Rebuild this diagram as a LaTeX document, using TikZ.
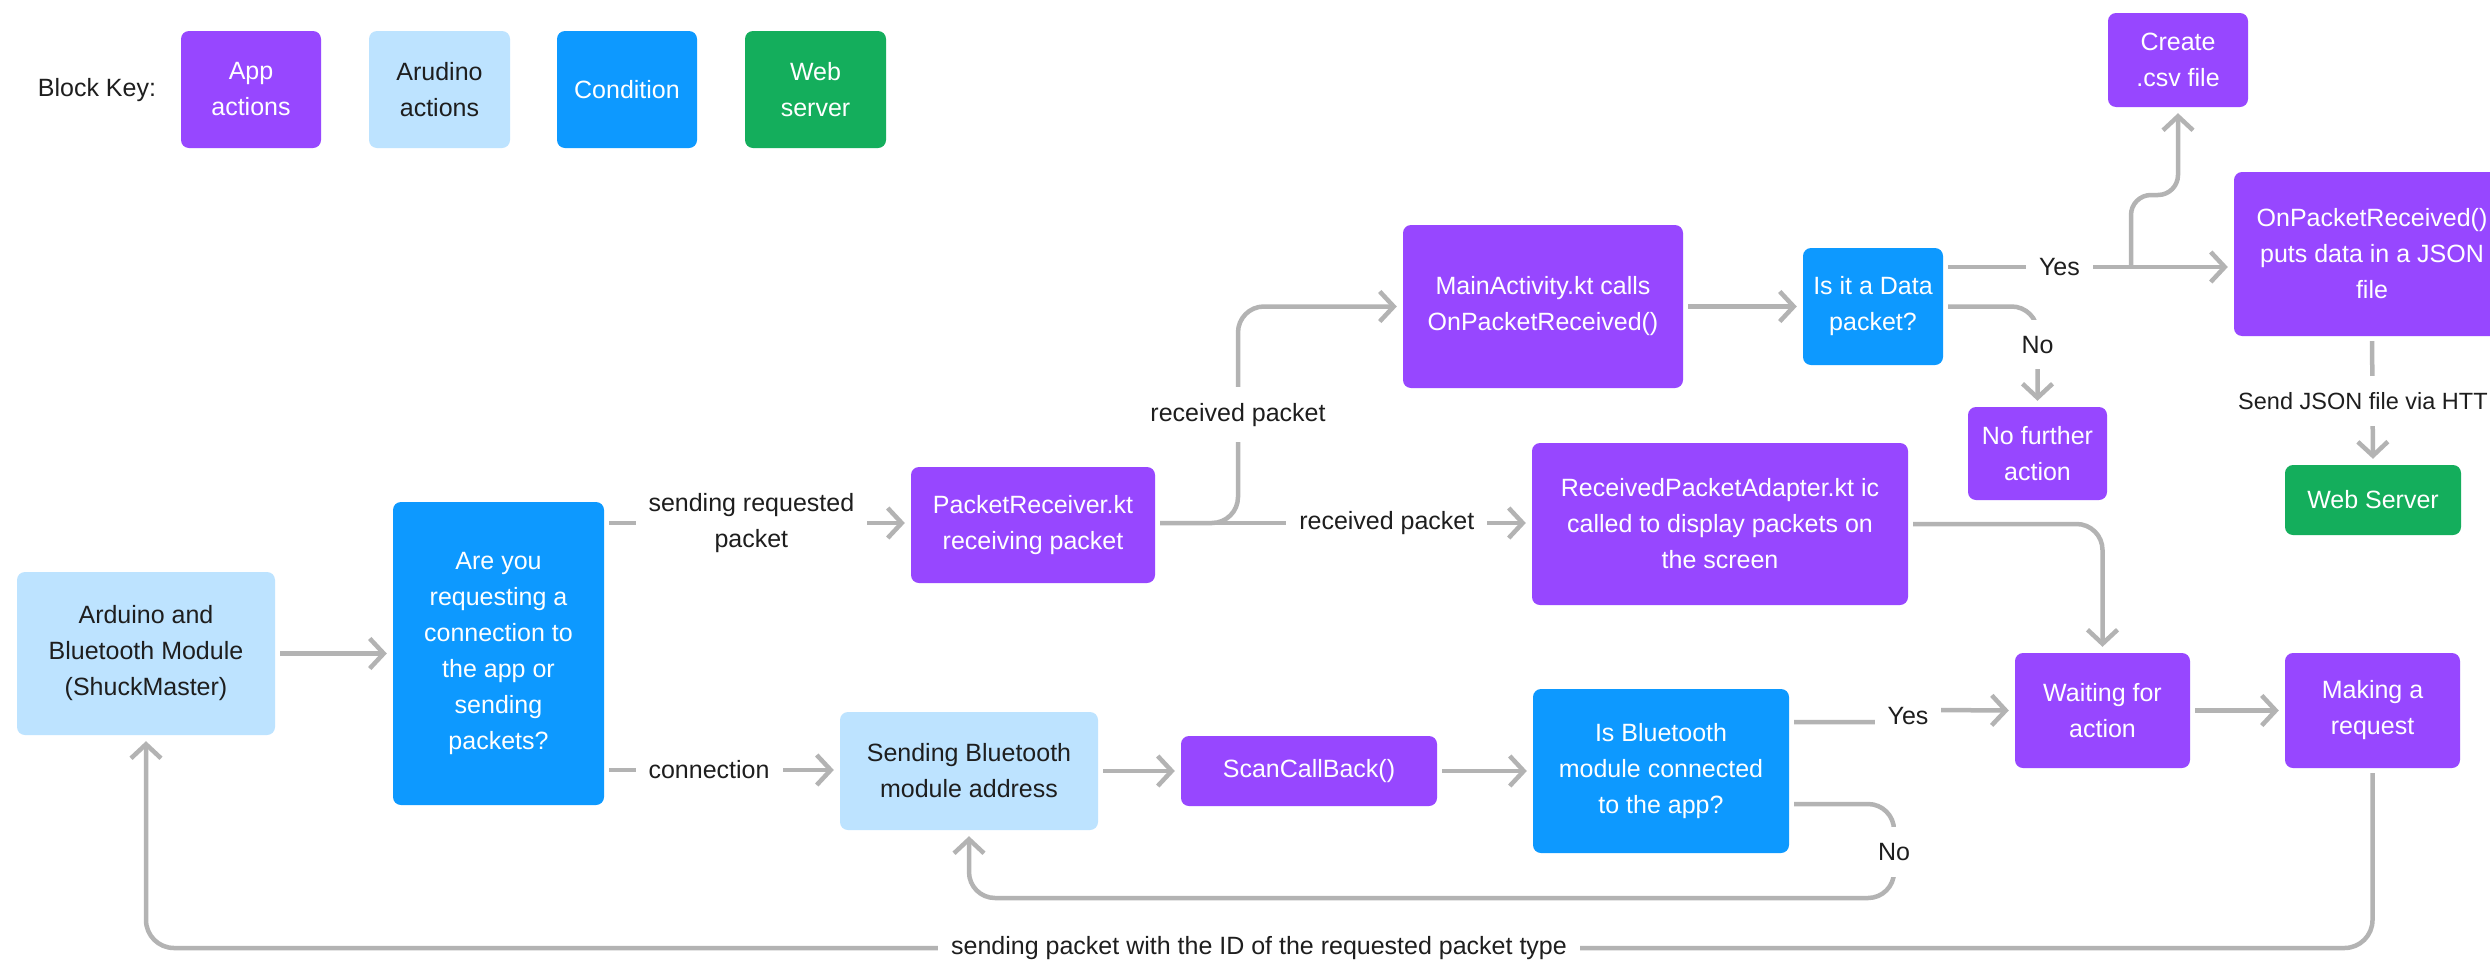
\documentclass[tikz,border=0pt]{standalone}
\usepackage{fontspec}
\setmainfont{Liberation Sans}
\usetikzlibrary{arrows.meta}
\definecolor{appc}{HTML}{9747FF}
\definecolor{ardc}{HTML}{BDE3FF}
\definecolor{condc}{HTML}{0D99FF}
\definecolor{webc}{HTML}{14AE5C}
\definecolor{linec}{HTML}{B3B3B3}
\definecolor{txtc}{HTML}{1E1E1E}
\newcommand\lblfont{\fontsize{25}{36}\selectfont}
\tikzset{
  box/.style={rounded corners=8pt, inner sep=0pt, align=center, font=\lblfont, text=white},
  appbox/.style={box, fill=appc},
  ardbox/.style={box, fill=ardc, text=txtc},
  condbox/.style={box, fill=condc},
  webbox/.style={box, fill=webc},
  conn/.style={draw=linec, line width=4.5pt, rounded corners=26pt},
  arr/.style={conn, -{Straight Barb[length=14pt,width=30pt]}, shorten >=6pt, shorten <=5pt},
  lbl/.style={fill=white, text=txtc, inner xsep=13pt, inner ysep=16pt, font=\lblfont, align=center, rounded corners=0pt}
}
\begin{document}
\begin{tikzpicture}[x=1pt,y=-1pt]
\useasboundingbox (0,0) rectangle (2490,959);
\fill[white] (0,0) rectangle (2490,959);
\clip (0,0) rectangle (2490,959);

% key
\node[text=txtc, font=\lblfont, inner sep=0pt] (bk) at (97,90) {Block Key:};
\node[appbox, minimum width=140pt, minimum height=117pt] (kapp) at (251,89.5) {App\\actions};
\node[ardbox, minimum width=141pt, minimum height=117pt] (kard) at (439.5,89.5) {Arudino\\actions};
\node[condbox, minimum width=140pt, minimum height=117pt] (kcond) at (627,89.5) {Condition};
\node[webbox, minimum width=141pt, minimum height=117pt] (kweb) at (815.5,89.5) {Web\\server};

% nodes
\node[appbox, minimum width=140pt, minimum height=94pt] (create) at (2178,60) {Create\\.csv file};
\node[appbox, minimum width=276pt, minimum height=164pt] (onp) at (2372,254) {OnPacketReceived()\\puts data in a JSON\\file};
\node[appbox, minimum width=280pt, minimum height=163pt] (main) at (1543,306.5) {MainActivity.kt calls\\OnPacketReceived()};
\node[condbox, minimum width=140pt, minimum height=117pt] (isdata) at (1873,306.5) {Is it a Data\\packet?};
\node[appbox, minimum width=139pt, minimum height=93pt] (nofur) at (2037.5,453.5) {No further\\action};
\node[webbox, minimum width=176pt, minimum height=70pt] (websrv) at (2373,500) {Web Server};
\node[appbox, minimum width=244pt, minimum height=116pt] (pr) at (1033,525) {PacketReceiver.kt\\receiving packet};
\node[appbox, minimum width=376pt, minimum height=162pt] (rpa) at (1720,524) {ReceivedPacketAdapter.kt ic\\called to display packets on\\the screen};
\node[condbox, minimum width=211pt, minimum height=303pt] (areyou) at (498.5,653.5) {Are you\\requesting a\\connection to\\the app or\\sending\\packets?};
\node[ardbox, minimum width=258pt, minimum height=163pt] (ard) at (146,653.5) {Arduino and\\Bluetooth Module\\(ShuckMaster)};
\node[ardbox, minimum width=258pt, minimum height=118pt] (sendbt) at (969,771) {Sending Bluetooth\\module address};
\node[appbox, minimum width=256pt, minimum height=70pt] (scan) at (1309,771) {ScanCallBack()};
\node[condbox, minimum width=256pt, minimum height=164pt] (isbt) at (1661,771) {Is Bluetooth\\module connected\\to the app?};
\node[appbox, minimum width=175pt, minimum height=115pt] (wait) at (2102.5,710.5) {Waiting for\\action};
\node[appbox, minimum width=175pt, minimum height=115pt] (make) at (2372.5,710.5) {Making a\\request};

% helper coordinates
\coordinate (yesY) at (0,267);
\coordinate (brA) at (2131,267);
\coordinate (brX) at (1238,0);
\coordinate (topY) at (0,523);
\coordinate (botY) at (0,770);
\coordinate (yesB) at (0,722);
\coordinate (noB) at (0,804);
\coordinate (noC) at (1894,898);
\coordinate (bot) at (1259,948);

% connectors
\draw[arr] (ard.east) -- (areyou.west);
\draw[arr] (areyou.east |- topY) -- node[lbl, pos=0.48] {sending requested\\packet} (pr.west |- topY);
\draw[arr] (areyou.east |- botY) -- node[lbl, pos=0.445] {connection} (sendbt.west |- botY);
\draw[arr] (pr.east |- topY) -- node[lbl, pos=0.615] {received packet} (rpa.west |- topY);
\draw[arr] (pr.east |- topY) -| node[lbl, pos=0.75] {received packet} (brX |- main.west) -- (main.west);
\draw[arr] (main.east) -- (isdata.west);
\draw[arr] (isdata.east |- yesY) -- node[lbl, pos=0.4] {Yes} (onp.west |- yesY);
\draw[arr, rounded corners=20pt, shorten <=0pt] (brA) -- (2131,195) -- (2178,195) -- (create.south);
\draw[arr] (isdata.east) -| node[lbl, pos=0.69] {No} (nofur.north);
\draw[arr] (onp.south) -- (websrv.north);
\node[lbl, anchor=west, inner xsep=0pt, font=\fontsize{23.5}{30}\selectfont] (sendjson) at (2238,401) {Send JSON file via HTT};
\draw[arr] (rpa.east) -| (wait.north);
\draw[arr] (sendbt.east) -- (scan.west);
\draw[arr] (scan.east) -- (isbt.west);
\draw[arr, rounded corners=0pt] (isbt.east |- yesB) -- (1885,722) -- (1931,710) -- (wait.west);
\node[lbl] (yesl) at (1908,716) {Yes};
\draw[arr] (isbt.east |- noB) -| (noC) -| (sendbt.south);
\node[lbl] (nol) at (1894,852) {No};
\draw[arr] (wait.east) -- (make.west);
\draw[arr, rounded corners=28pt] (make.south) |- (bot) -| (ard.south);
\node[lbl] (botl) at (bot) {sending packet with the ID of the requested packet type};
\end{tikzpicture}
\end{document}
